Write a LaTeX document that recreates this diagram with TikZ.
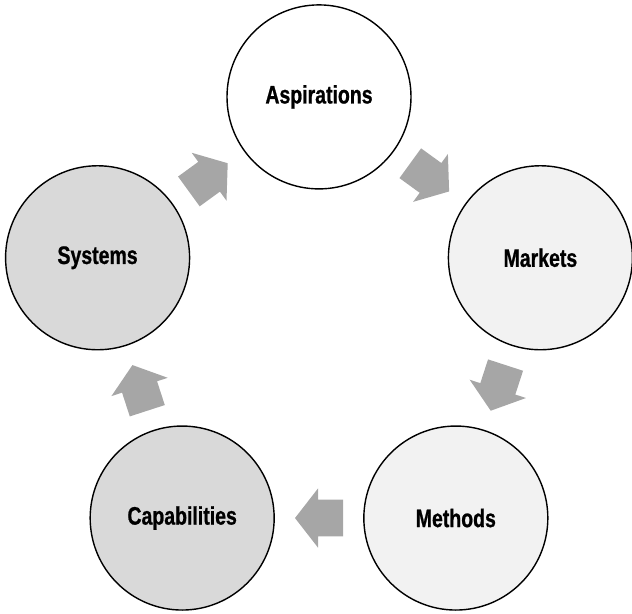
\documentclass[tikz,border=0pt]{standalone}
\usepackage{fontspec}
\newfontfamily\stagefont[FakeStretch=0.77,BoldFeatures={FakeBold=0.8}]{Liberation Sans}
\usetikzlibrary{calc}

\definecolor{ringlight}{HTML}{F2F2F2}
\definecolor{ringdark}{HTML}{D9D9D9}
\definecolor{arrowgray}{HTML}{A6A6A6}

\tikzset{
  stage/.style={circle, draw=black, line width=1pt, minimum size=4.6cm, inner sep=0pt,
    font={\stagefont\fontsize{18}{21}\selectfont\bfseries}},
  % block arrow pointing east, centred on the origin
  cyclearrow/.pic={
    \fill[arrowgray] (0.6,0) -- (0.025,0.74) -- (0.025,0.46) -- (-0.6,0.46)
      -- (-0.6,-0.46) -- (0.025,-0.46) -- (0.025,-0.74) -- cycle;
  }
}

\begin{document}
\begin{tikzpicture}

    \useasboundingbox (-7.975,-7.0825) rectangle (7.825,8.2425);

    \node[stage, fill=white] (asp) at (90:5.82) {Aspirations};
    \node[stage, fill=ringlight] (mkt) at (18:5.82) {Markets};
    \node[stage, fill=ringlight] (mth) at (-54:5.82) {Methods};
    \node[stage, fill=ringdark] (cap) at (234:5.82) {Capabilities};
    \node[stage, fill=ringdark] (sys) at (162:5.82) {Systems};

    \pic[rotate=-36] at ($(asp)!0.5!(mkt)$) {cyclearrow};
    \pic[rotate=-108] at ($(mkt)!0.5!(mth)$) {cyclearrow};
    \pic[rotate=180] at ($(mth)!0.5!(cap)$) {cyclearrow};
    \pic[rotate=108] at ($(cap)!0.5!(sys)$) {cyclearrow};
    \pic[rotate=36] at ($(sys)!0.5!(asp)$) {cyclearrow};

\end{tikzpicture}
\end{document}
